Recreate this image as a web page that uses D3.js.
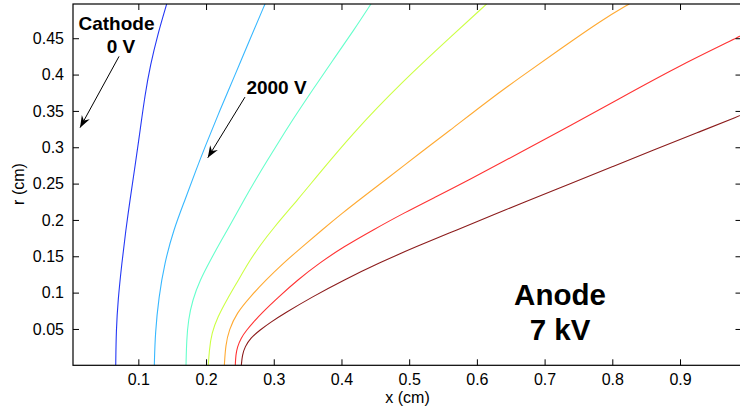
<!DOCTYPE html>
<html>
<head>
<meta charset="utf-8">
<script src="https://cdn.jsdelivr.net/npm/d3@7/dist/d3.min.js"></script>
<style>
  html, body { margin: 0; padding: 0; background: #fff; }
  svg { display: block; font-family: "Liberation Sans", Arial, Helvetica, sans-serif; }
</style>
</head>
<body>
<svg id="chart" width="740" height="413"></svg>
<script>
// Equipotential contours between cathode (x = 0) and anode, points as [x, r] in cm
const levels = [1000, 2000, 3000, 4000, 5000, 6000, 6500];
const levelColors = ["#2438f5", "#38b8ff", "#66ffcc", "#ccff44", "#ffaa33", "#ff3333", "#8c1c1c"];

const contour1000 = [[0.0666,0],[0.0673,0.0486],[0.0700,0.0899],[0.0753,0.1380],[0.0815,0.1862],[0.0877,0.2275],[0.0954,0.2756],[0.1027,0.3238],[0.1098,0.3720],[0.1178,0.4132],[0.1284,0.4545],[0.1419,0.4972]];
const contour2000 = [[0.1236,0],[0.1249,0.0444],[0.1302,0.0940],[0.1388,0.1408],[0.1519,0.1862],[0.1689,0.2275],[0.1852,0.2688],[0.1984,0.3004],[0.2206,0.3513],[0.2428,0.3995],[0.2656,0.4504],[0.2871,0.4972]];
const contour3000 = [[0.1704,0],[0.1713,0.0348],[0.1738,0.0623],[0.1800,0.0899],[0.1911,0.1174],[0.2066,0.1449],[0.2228,0.1724],[0.2398,0.1999],[0.2560,0.2275],[0.2730,0.2550],[0.2908,0.2825],[0.3092,0.3100],[0.3277,0.3376],[0.3572,0.3788],[0.3875,0.4201],[0.4185,0.4614],[0.4436,0.4972]];
const contour4000 = [[0.2033,0],[0.2048,0.0211],[0.2083,0.0444],[0.2172,0.0665],[0.2305,0.0899],[0.2479,0.1174],[0.2649,0.1449],[0.2804,0.1655],[0.2970,0.1862],[0.3387,0.2316],[0.3580,0.2536],[0.4170,0.3197],[0.4879,0.3885],[0.5677,0.4573],[0.6145,0.4972]];
const contour5000 = [[0.2270,0],[0.2289,0.0279],[0.2339,0.0486],[0.2453,0.0720],[0.2649,0.0940],[0.2885,0.1174],[0.3144,0.1408],[0.3417,0.1628],[0.3712,0.1862],[0.4015,0.2096],[0.4318,0.2316],[0.4628,0.2536],[0.5219,0.2963],[0.5554,0.3197],[0.6179,0.3651],[0.6637,0.3960],[0.7213,0.4339],[0.7848,0.4752],[0.8251,0.4972]];
const contour6000 = [[0.2432,0],[0.2439,0.0142],[0.2462,0.0252],[0.2516,0.0376],[0.2600,0.0486],[0.2701,0.0596],[0.2822,0.0720],[0.3070,0.0940],[0.3351,0.1174],[0.3675,0.1408],[0.4027,0.1628],[0.4466,0.1862],[0.4923,0.2096],[0.5389,0.2316],[0.5854,0.2536],[0.6711,0.2963],[0.7346,0.3279],[0.8069,0.3651],[0.8955,0.4105],[0.9861,0.4514],[0.9960,0.4566]];
const contour6500 = [[0.2521,0],[0.2535,0.0142],[0.2575,0.0256],[0.2656,0.0376],[0.2797,0.0486],[0.2959,0.0596],[0.3159,0.0716],[0.3565,0.0940],[0.4037,0.1174],[0.4554,0.1408],[0.5101,0.1632],[0.5706,0.1862],[0.6297,0.2092],[0.6637,0.2220],[0.7405,0.2509],[0.8010,0.2736],[0.8616,0.2963],[0.9246,0.3197],[0.9908,0.3444],[0.9975,0.3472]];
const contours = [contour1000, contour2000, contour3000, contour4000, contour5000, contour6000, contour6500];

const xTicks = [0.1, 0.2, 0.3, 0.4, 0.5, 0.6, 0.7, 0.8, 0.9];
const yTicks = [0.05, 0.1, 0.15, 0.2, 0.25, 0.3, 0.35, 0.4, 0.45];

const svg = d3.select("#chart");
const plotLeft = 73, plotRight = 741.5, plotTop = 4, plotBottom = 365.3;

const x = d3.scaleLinear().domain([0.0035, 0.9908]).range([plotLeft, plotRight]);
const y = d3.scaleLinear().domain([0, 0.4971]).range([plotBottom, plotTop]);

const defs = svg.append("defs");
defs.append("clipPath").attr("id", "plotClip")
  .append("rect").attr("x", plotLeft).attr("y", plotTop)
  .attr("width", plotRight - plotLeft).attr("height", plotBottom - plotTop);

// contour lines
const line = d3.line().x(d => x(d[0])).y(d => y(d[1])).curve(d3.curveBasis);
svg.append("g").attr("clip-path", "url(#plotClip)")
  .selectAll("path").data(contours).join("path")
  .attr("d", line)
  .attr("fill", "none")
  .attr("stroke", (d, i) => levelColors[i])
  .attr("stroke-width", 1.1);

// axes with inward ticks on all four sides
const tickLen = 6;
const fmt = d => String(d);
const xAxisB = d3.axisBottom(x).tickValues(xTicks).tickFormat(fmt).tickSizeInner(-tickLen).tickSizeOuter(0).tickPadding(8);
const xAxisT = d3.axisTop(x).tickValues(xTicks).tickFormat("").tickSizeInner(-tickLen).tickSizeOuter(0);
const yAxisL = d3.axisLeft(y).tickValues(yTicks).tickFormat(fmt).tickSizeInner(-tickLen).tickSizeOuter(0).tickPadding(9);
const yAxisR = d3.axisRight(y).tickValues(yTicks).tickFormat("").tickSizeInner(-tickLen).tickSizeOuter(0);

function styleAxis(g) {
  g.select(".domain").remove();
  g.selectAll(".tick line").attr("stroke", "#000").attr("stroke-width", 1);
  g.selectAll(".tick text").attr("fill", "#000").style("font-size", "16px");
}
svg.append("g").attr("transform", `translate(0,${plotBottom})`).call(xAxisB).call(styleAxis);
svg.append("g").attr("transform", `translate(0,${plotTop})`).call(xAxisT).call(styleAxis);
svg.append("g").attr("transform", `translate(${plotLeft},0)`).call(yAxisL).call(styleAxis);
svg.append("g").attr("transform", `translate(${plotRight},0)`).call(yAxisR).call(styleAxis);

// frame
svg.append("rect").attr("x", plotLeft).attr("y", plotTop)
  .attr("width", plotRight - plotLeft).attr("height", plotBottom - plotTop)
  .attr("fill", "none").attr("stroke", "#000").attr("stroke-width", 1.2);

// axis titles
svg.append("text").attr("x", 407.5).attr("y", 403).attr("text-anchor", "middle")
  .style("font-size", "16px").text("x (cm)");
svg.append("text").attr("transform", "translate(24,184) rotate(-90)").attr("text-anchor", "middle")
  .style("font-size", "16px").text("r (cm)");

// arrow marker
defs.append("marker").attr("id", "arrowHead")
  .attr("viewBox", "-12 -6 14 12").attr("refX", 0).attr("refY", 0)
  .attr("markerWidth", 14).attr("markerHeight", 12).attr("markerUnits", "userSpaceOnUse")
  .attr("orient", "auto")
  .append("path").attr("d", "M0,0 L-12,-4.5 L-8,0 L-12,4.5 Z").attr("fill", "#000");

function arrow(x0, y0, x1, y1) {
  svg.append("line")
    .attr("x1", x(x0)).attr("y1", y(y0)).attr("x2", x(x1)).attr("y2", y(y1))
    .attr("stroke", "#000").attr("stroke-width", 1)
    .attr("marker-end", "url(#arrowHead)");
}

// annotations
const bold = (sel, size) => sel.style("font-size", size + "px").style("font-weight", "bold").attr("text-anchor", "middle");
bold(svg.append("text").attr("x", 116.5).attr("y", 30).text("Cathode"), 19);
bold(svg.append("text").attr("x", 121).attr("y", 52.5).text("0 V"), 19);
arrow(0.0715, 0.425, 0.0139, 0.327);

bold(svg.append("text").attr("x", 276.5).attr("y", 93.5).text("2000 V"), 19);
arrow(0.2575, 0.369, 0.2025, 0.2855);

bold(svg.append("text").attr("x", 560).attr("y", 305).text("Anode"), 29.5);
bold(svg.append("text").attr("x", 560).attr("y", 340).text("7 kV"), 29.5);
</script>
</body>
</html>
